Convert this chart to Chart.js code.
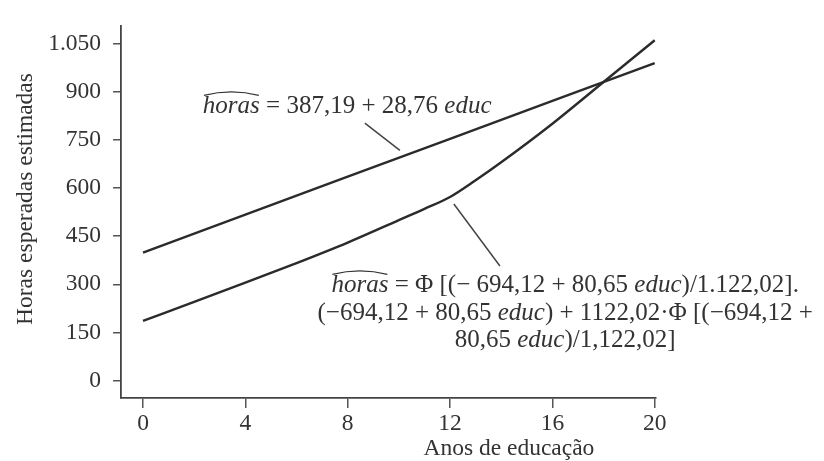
<!DOCTYPE html>
<html>
<head>
<meta charset="utf-8">
<script src="https://cdn.jsdelivr.net/npm/chart.js@4.4.1/dist/chart.umd.min.js"></script>
<style>
  html, body { margin: 0; padding: 0; background: #ffffff; }
  #c { display: block; }
</style>
</head>
<body>
<canvas id="c" width="824" height="461"></canvas>
<script>
// ---- data ----
const tobitEduc  = [0, 2, 4, 6, 8, 10, 11, 12, 13, 14, 16, 18, 20];
const tobitHours = [186, 245, 305, 366, 430, 500, 535, 572, 624, 680, 800, 930, 1060];
const olsEduc    = [0, 4, 8, 12, 16, 20];
const olsHours   = [399, 517, 635, 753, 871, 989];
const xTicks      = [0, 4, 8, 12, 16, 20];
const xTickLabels = ['0', '4', '8', '12', '16', '20'];
const yTicks      = [0, 150, 300, 450, 600, 750, 900, 1050];
const yTickLabels = ['0', '150', '300', '450', '600', '750', '900', '1.050'];
const xTitle = 'Anos de educação';
const yTitle = 'Horas esperadas estimadas';

const SERIF = '"Liberation Serif", "DejaVu Serif", serif';
const INK = '#333333';

function toXY(xs, ys) { return xs.map((x, i) => ({ x: x, y: ys[i] })); }

function drawRuns(ctx, runs, x, y, align, size) {
  const fonts = runs.map(r => (r[1] ? 'italic ' : '') + size + 'px ' + SERIF);
  const widths = runs.map((r, i) => { ctx.font = fonts[i]; return ctx.measureText(r[0]).width; });
  const total = widths.reduce((a, b) => a + b, 0);
  let cx = align === 'center' ? x - total / 2 : x;
  const starts = [];
  runs.forEach((r, i) => {
    ctx.font = fonts[i];
    ctx.textAlign = 'left';
    ctx.textBaseline = 'alphabetic';
    ctx.fillText(r[0], cx, y);
    starts.push([cx, widths[i]]);
    cx += widths[i];
  });
  return starts;
}

function hat(ctx, x0, w, y) {
  ctx.beginPath();
  ctx.moveTo(x0 + 1, y - 18);
  ctx.quadraticCurveTo(x0 + w / 2, y - 25, x0 + w - 1, y - 18);
  ctx.lineWidth = 1.2;
  ctx.strokeStyle = INK;
  ctx.stroke();
}

const annotations = {
  id: 'annotations',
  afterDraw(chart) {
    const ctx = chart.ctx;
    const xs = chart.scales.x, ys = chart.scales.y;
    const P = (e, v) => [xs.getPixelForValue(e), ys.getPixelForValue(v)];
    ctx.save();
    ctx.fillStyle = INK;

    // axis titles
    ctx.font = '23.5px ' + SERIF;
    ctx.textAlign = 'center';
    ctx.textBaseline = 'alphabetic';
    ctx.fillText(xTitle, xs.getPixelForValue(14.3), 455);
    ctx.save();
    ctx.translate(26, 199);
    ctx.rotate(-Math.PI / 2);
    ctx.textBaseline = 'middle';
    ctx.fillText(yTitle, 0, 0);
    ctx.restore();

    // OLS label
    const size = 25;
    let [tx, ty] = P(2.34, 832);
    let s = drawRuns(ctx, [['horas', true], [' = 387,19 + 28,76 ', false], ['educ', true]], tx, ty, 'left', size);
    hat(ctx, s[0][0], s[0][1], ty);

    // Tobit label
    const [cx, ] = P(16.5, 0);
    const b1 = ys.getPixelForValue(275), b2 = ys.getPixelForValue(188), b3 = ys.getPixelForValue(106);
    s = drawRuns(ctx, [['horas', true], [' = Φ [(− 694,12 + 80,65 ', false], ['educ', true], [')/1.122,02].', false]], cx, b1, 'center', size);
    hat(ctx, s[0][0], s[0][1], b1);
    drawRuns(ctx, [['(−694,12 + 80,65 ', false], ['educ', true], [') + 1122,02·Φ [(−694,12 +', false]], cx, b2, 'center', size);
    drawRuns(ctx, [['80,65 ', false], ['educ', true], [')/1,122,02]', false]], cx, b3, 'center', size);

    // leader lines
    ctx.strokeStyle = '#444';
    ctx.lineWidth = 1.5;
    const seg = (a, b) => { ctx.beginPath(); ctx.moveTo(a[0], a[1]); ctx.lineTo(b[0], b[1]); ctx.stroke(); };
    seg(P(8.67, 802), P(10.04, 717));
    seg(P(12.15, 550), P(13.95, 357));
    ctx.restore();
  }
};

new Chart(document.getElementById('c'), {
  type: 'line',
  data: {
    datasets: [
      { label: 'OLS', data: toXY(olsEduc, olsHours), borderColor: '#2b2b2b', borderWidth: 2.4, pointRadius: 0, tension: 0, fill: false },
      { label: 'Tobit', data: toXY(tobitEduc, tobitHours), borderColor: '#2b2b2b', borderWidth: 2.4, pointRadius: 0, cubicInterpolationMode: 'monotone', fill: false }
    ]
  },
  options: {
    responsive: false,
    animation: false,
    devicePixelRatio: 1,
    layout: { padding: { top: 15, right: 168, left: 0, bottom: 0 } },
    plugins: { legend: { display: false }, tooltip: { enabled: false }, title: { display: false } },
    scales: {
      x: {
        type: 'linear', min: -0.86, max: 20.05,
        afterBuildTicks: s => { s.ticks = xTicks.map(v => ({ value: v })); },
        afterFit: s => { s.height = 63; },
        ticks: {
          callback: v => xTickLabels[xTicks.indexOf(v)],
          font: { family: SERIF, size: 23.5 }, color: INK, padding: 2, maxRotation: 0, autoSkip: false
        },
        grid: { drawOnChartArea: false, drawTicks: true, tickLength: 10, color: '#555', lineWidth: 1.5 },
        border: { display: true, color: '#444', width: 1.8 }
      },
      y: {
        type: 'linear', min: -54, max: 1104,
        afterBuildTicks: s => { s.ticks = yTicks.map(v => ({ value: v })); },
        afterFit: s => { s.width = 121; },
        ticks: {
          callback: v => yTickLabels[yTicks.indexOf(v)],
          font: { family: SERIF, size: 23.5 }, color: INK, padding: 12, autoSkip: false
        },
        grid: { drawOnChartArea: false, drawTicks: true, tickLength: 8, color: '#555', lineWidth: 1.5 },
        border: { display: true, color: '#444', width: 1.8 }
      }
    }
  },
  plugins: [annotations]
});
</script>
</body>
</html>
